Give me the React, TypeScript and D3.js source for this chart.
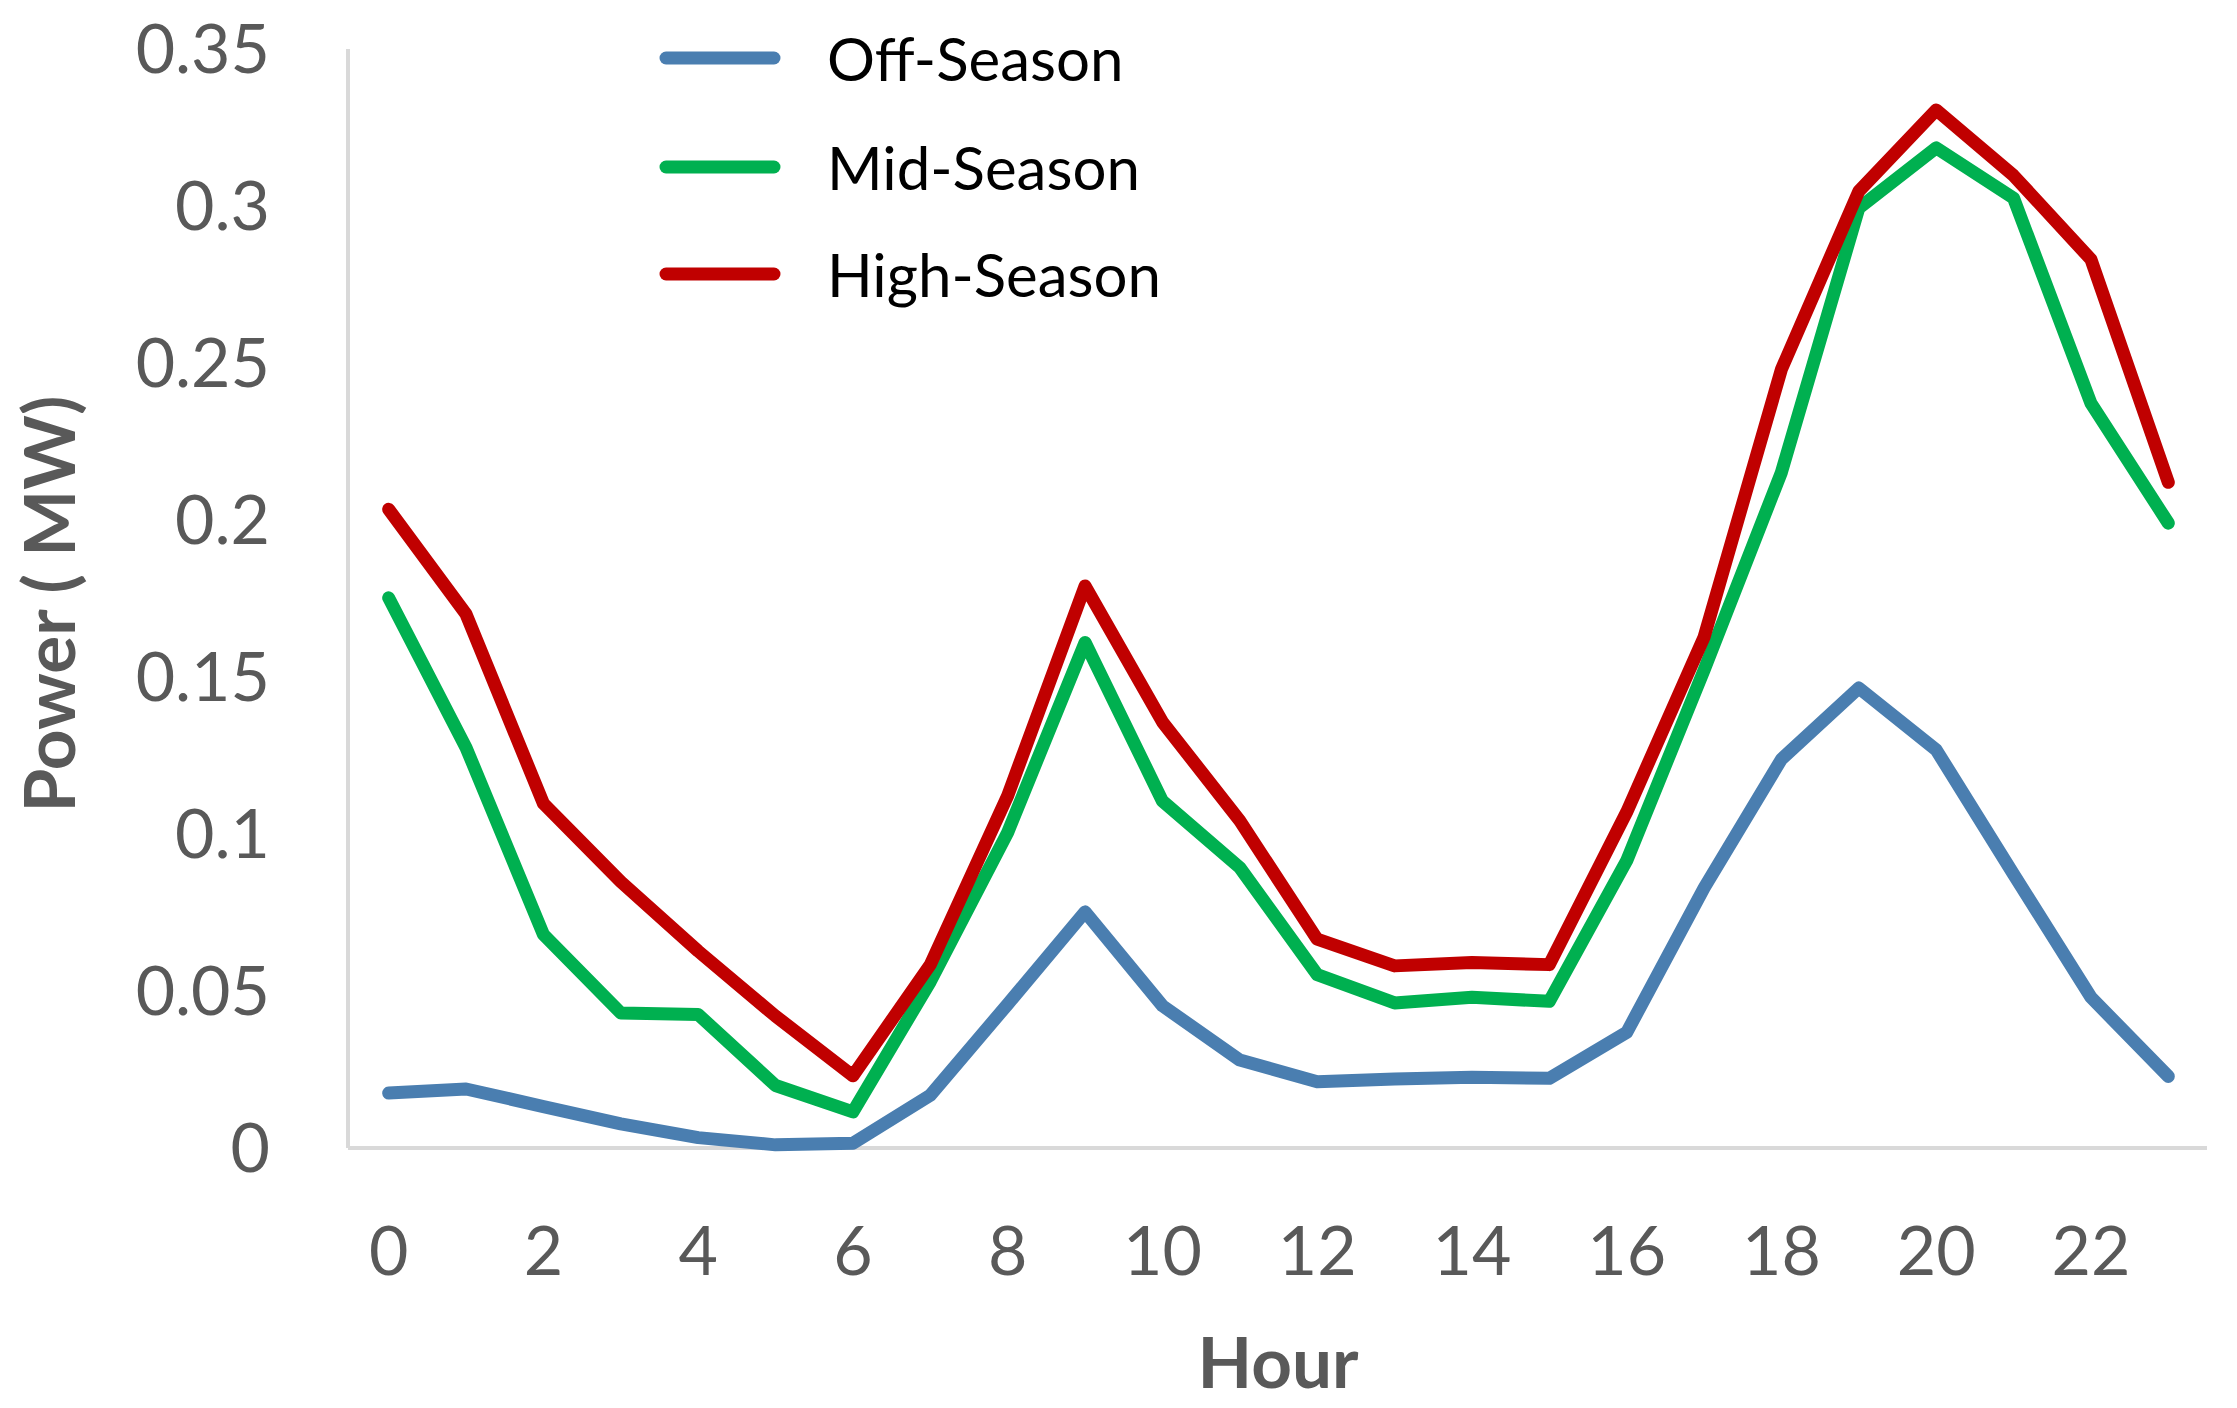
import React from "react";
import { scaleLinear, scalePoint, line } from "d3";

const hours = Array.from({ length: 24 }, (_, i) => i);
const xTickLabels = [0, 2, 4, 6, 8, 10, 12, 14, 16, 18, 20, 22];
const yTicks = [0, 0.05, 0.1, 0.15, 0.2, 0.25, 0.3, 0.35];

const offSeason = [
  0.0175, 0.0188, 0.0132, 0.0077, 0.0033, 0.001, 0.0015, 0.0168, 0.0458, 0.0752,
  0.0453, 0.028, 0.0211, 0.022, 0.0225, 0.0222, 0.0368, 0.0828, 0.1238, 0.1465,
  0.1268, 0.0872, 0.048, 0.0228,
];
const midSeason = [
  0.1752, 0.1275, 0.068, 0.043, 0.0425, 0.0199, 0.0115, 0.053, 0.1005, 0.161,
  0.1105, 0.0893, 0.0552, 0.0462, 0.048, 0.0467, 0.0915, 0.1522, 0.2152, 0.2993,
  0.3185, 0.3025, 0.2372, 0.199,
];
const highSeason = [
  0.2034, 0.17, 0.1097, 0.0848, 0.0627, 0.042, 0.023, 0.0584, 0.1122, 0.179,
  0.1357, 0.1042, 0.0665, 0.058, 0.0591, 0.0584, 0.107, 0.1627, 0.248, 0.3047,
  0.3306, 0.3097, 0.283, 0.212,
];

const seriesNames = ["Off-Season", "Mid-Season", "High-Season"];
const seriesColors = ["#4A7EB0", "#00B050", "#C00000"];

const W = 2237;
const H = 1408;
const plot = { left: 348, right: 2207, top: 49, bottom: 1148 };
const FONT = "Lato, 'Open Sans', 'DejaVu Sans', sans-serif";
const GREY = "#595959";

export default function App() {
  const x = scalePoint<number>()
    .domain(hours)
    .range([plot.left + 2, plot.right])
    .padding(0.5);
  const y = scaleLinear().domain([0, 0.35]).range([plot.bottom, plot.top]);

  const path = line<number>()
    .x((_, i) => x(hours[i]) as number)
    .y((d) => y(d));

  const data = [offSeason, midSeason, highSeason];
  const legendY = [58, 167, 274];

  return (
    <svg
      width={W}
      height={H}
      viewBox={`0 0 ${W} ${H}`}
      style={{ position: "absolute", left: 0, top: 0, background: "#fff" }}
    >
      <rect width={W} height={H} fill="#fff" />

      {/* axes */}
      <line x1={plot.left} x2={plot.left} y1={plot.top} y2={plot.bottom} stroke="#D9D9D9" strokeWidth={4} />
      <line x1={plot.left} x2={plot.right} y1={plot.bottom} y2={plot.bottom} stroke="#D9D9D9" strokeWidth={4} />

      {yTicks.map((t) => (
        <text
          key={t}
          x={270}
          y={y(t)}
          dy="0.36em"
          textAnchor="end"
          fontFamily={FONT}
          fontSize={68}
          fill={GREY}
        >
          {String(t)}
        </text>
      ))}

      {xTickLabels.map((h) => (
        <text
          key={h}
          x={x(h)}
          y={1275}
          textAnchor="middle"
          fontFamily={FONT}
          fontSize={68}
          fill={GREY}
        >
          {h}
        </text>
      ))}

      <text
        x={1278}
        y={1388}
        textAnchor="middle"
        fontFamily={FONT}
        fontSize={71}
        fontWeight="bold"
        fill={GREY}
      >
        Hour
      </text>
      <text
        transform="translate(75,604) rotate(-90)"
        textAnchor="middle"
        fontFamily={FONT}
        fontSize={71}
        fontWeight="bold"
        fill={GREY}
      >
        Power ( MW)
      </text>

      {data.map((s, i) => (
        <path
          key={seriesNames[i]}
          d={path(s) ?? ""}
          fill="none"
          stroke={seriesColors[i]}
          strokeWidth={13}
          strokeLinejoin="round"
          strokeLinecap="round"
        />
      ))}

      {/* legend */}
      {seriesNames.map((name, i) => (
        <g key={name}>
          <line
            x1={666}
            x2={774}
            y1={legendY[i]}
            y2={legendY[i]}
            stroke={seriesColors[i]}
            strokeWidth={13}
            strokeLinecap="round"
          />
          <text
            x={827}
            y={legendY[i] + 23}
            fontFamily={FONT}
            fontSize={60}
            fill="#000"
          >
            {name}
          </text>
        </g>
      ))}
    </svg>
  );
}
